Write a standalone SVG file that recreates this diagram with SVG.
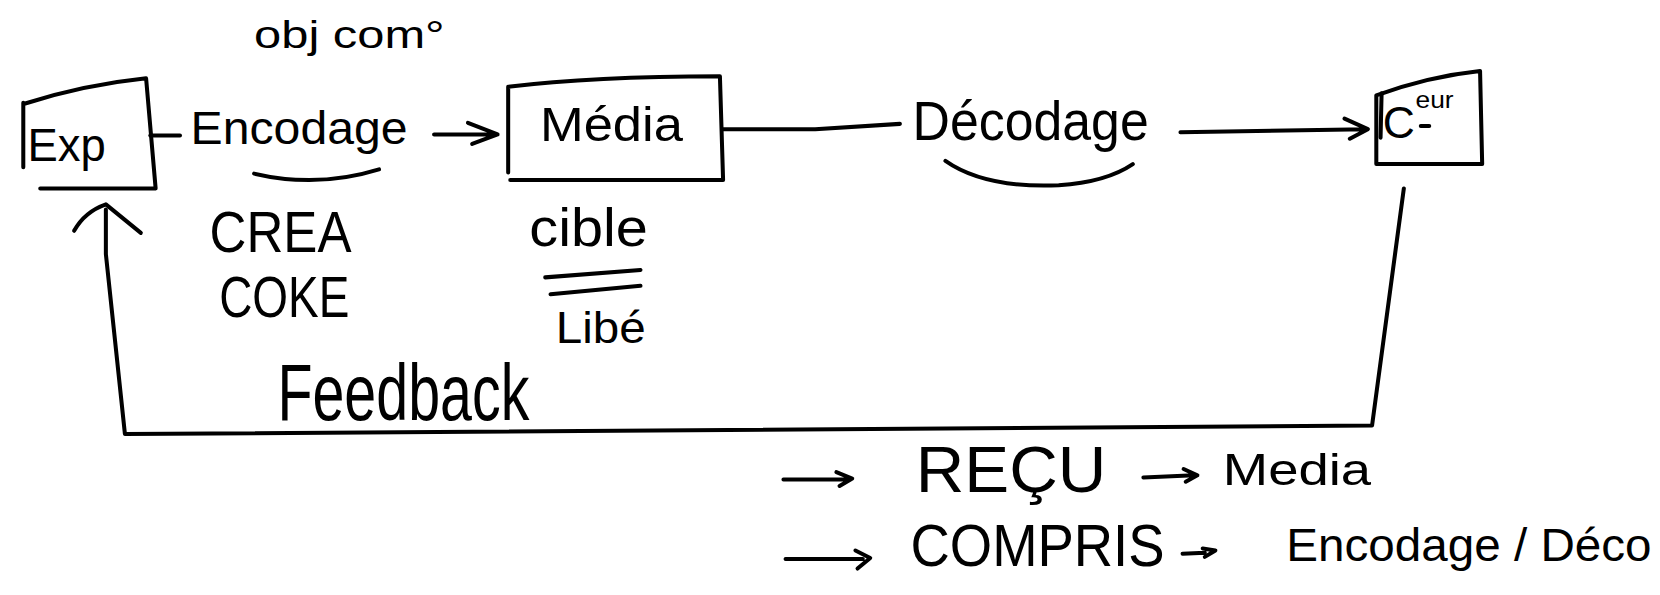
<svg xmlns="http://www.w3.org/2000/svg" width="1660" height="595" viewBox="0 0 1660 595">
  <style>
    .ink { fill: none; stroke: #000; stroke-width: 3.8; stroke-linecap: round; stroke-linejoin: round; }
    .hand { font-family: "Liberation Sans", "DejaVu Sans", sans-serif; fill: #000; }
  </style>
  <rect width="1660" height="595" fill="#fff"/>
  <!-- sketch drawn on a 1568-wide grid, scaled up to the canvas -->
  <g transform="scale(1.0587)">
    <text class="hand" x="240" y="45" font-size="36" textLength="180" lengthAdjust="spacingAndGlyphs">obj com°</text>

    <g id="exp">
      <path class="ink" d="M22 97 L22 158 M23 98 Q80 80 138 74 L147 178 L38 178"/>
      <text class="hand" x="26" y="152" font-size="44" textLength="74" lengthAdjust="spacingAndGlyphs">Exp</text>
    </g>

    <g id="media">
      <path class="ink" d="M480 163 L480 82 Q560 72 680 72 L683 170 L482 170"/>
      <text class="hand" x="510" y="133" font-size="46" textLength="135" lengthAdjust="spacingAndGlyphs">Média</text>
    </g>

    <g id="recepteur">
      <path class="ink" d="M1300 90 Q1350 72 1398 67 L1400 155 L1300 155 Z"/>
      <path class="ink" d="M1305 88 L1304 130 M1342 119 L1350 119"/>
      <text class="hand" x="1306" y="130" font-size="42">C</text>
      <text class="hand" x="1337" y="102" font-size="22" textLength="36" lengthAdjust="spacingAndGlyphs">eur</text>
    </g>

    <g id="connectors">
      <path class="ink" d="M142 128 L170 128"/>
      <path class="ink" d="M410 127 L470 127 M442 116 L470 127 L446 136"/>
      <path class="ink" d="M683 122 L770 122 L850 117"/>
      <path class="ink" d="M1115 125 L1290 122 M1270 112 L1292 122 L1275 131"/>
      <path class="ink" d="M1326 178 L1296 402 L118 410 L100 240 L100 198"/>
      <path class="ink" d="M70 218 Q80 200 100 193 L133 220"/>
    </g>

    <g id="encodage">
      <text class="hand" x="180" y="136" font-size="44" textLength="205" lengthAdjust="spacingAndGlyphs">Encodage</text>
      <path class="ink" d="M240 164 Q300 178 358 160"/>
    </g>

    <g id="decodage">
      <text class="hand" x="862" y="132" font-size="52" textLength="223" lengthAdjust="spacingAndGlyphs">Décodage</text>
      <path class="ink" d="M893 152 Q930 178 1000 175 Q1045 172 1070 155"/>
    </g>

    <g id="notes">
      <text class="hand" x="198" y="238" font-size="54" textLength="134" lengthAdjust="spacingAndGlyphs">CREA</text>
      <text class="hand" x="207" y="299" font-size="54" textLength="123" lengthAdjust="spacingAndGlyphs">COKE</text>
      <text class="hand" x="500" y="232" font-size="50" textLength="112" lengthAdjust="spacingAndGlyphs">cible</text>
      <path class="ink" d="M515 262 L605 255 M520 278 L605 270"/>
      <text class="hand" x="525" y="324" font-size="42" textLength="85" lengthAdjust="spacingAndGlyphs">Libé</text>
      <text class="hand" x="262" y="397" font-size="76" textLength="238" lengthAdjust="spacingAndGlyphs">Feedback</text>
    </g>

    <g id="summary">
      <path class="ink" d="M740 453 L800 453 M790 446 L805 452 L793 459"/>
      <text class="hand" x="865" y="465" font-size="62" textLength="180" lengthAdjust="spacingAndGlyphs">REÇU</text>
      <path class="ink" d="M1080 451 L1128 449 M1118 443 L1131 449 L1120 455"/>
      <text class="hand" x="1155" y="458" font-size="42" textLength="140" lengthAdjust="spacingAndGlyphs">Media</text>
      <path class="ink" d="M742 528 L815 528 M808 520 L822 527 L810 537"/>
      <text class="hand" x="860" y="535" font-size="56" textLength="240" lengthAdjust="spacingAndGlyphs">COMPRIS</text>
      <path class="ink" d="M1117 523 L1138 522 M1136 518 L1148 520 L1138 526"/>
      <text class="hand" x="1215" y="530" font-size="44" textLength="345" lengthAdjust="spacingAndGlyphs">Encodage / Déco</text>
    </g>
  </g>
</svg>
